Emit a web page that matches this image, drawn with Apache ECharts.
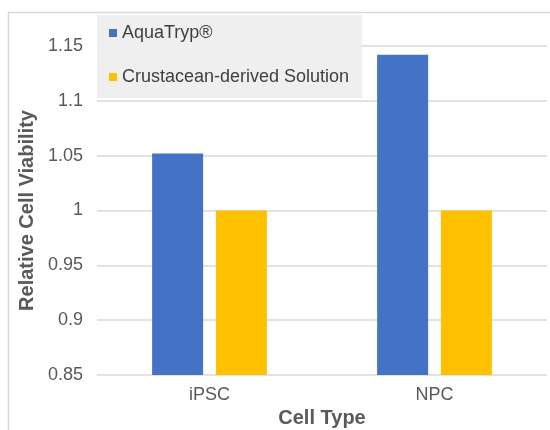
<!DOCTYPE html>
<html><head><meta charset="utf-8">
<script src="https://cdn.jsdelivr.net/npm/echarts@6/dist/echarts.min.js"></script>
<style>html,body{margin:0;padding:0;background:#fff}#c{width:550px;height:430px}</style>
</head><body><div id="c"></div>
<script>
const categories = ['iPSC', 'NPC'];
const seriesNames = ['AquaTryp®', 'Crustacean-derived Solution'];
const aquaTryp = [1.052, 1.142];
const crustacean = [1.0, 1.0];
const yTicks = [0.85, 0.9, 0.95, 1, 1.05, 1.1, 1.15];

const yMin = yTicks[0], yMax = yTicks[yTicks.length - 1];
const font = 'Liberation Sans, Arial, sans-serif';
const chart = echarts.init(document.getElementById('c'), null, {renderer: 'canvas'});
chart.setOption({
  animation: false,
  graphic: [{type: 'rect', shape: {x: 8.5, y: 12.5, width: 700, height: 600}, style: {fill: 'none', stroke: '#d9d9d9', lineWidth: 1.5}, z: -10}],
  grid: {left: 97, right: 3, top: 46, bottom: 55, containLabel: false, outerBoundsMode: 'none'},
  xAxis: {type: 'category', data: categories,
    axisLine: {show: false}, axisTick: {show: false},
    axisLabel: {color: '#595959', fontSize: 18, fontFamily: font, margin: 11},
    name: 'Cell Type', nameLocation: 'middle', nameGap: 33,
    nameTextStyle: {color: '#595959', fontSize: 20, fontWeight: 'bold', fontFamily: font}},
  yAxis: {type: 'value', min: yMin, max: yMax, interval: 0.05,
    axisLine: {show: false}, axisTick: {show: false},
    splitLine: {lineStyle: {color: '#d9d9d9', width: 1.5}},
    axisLabel: {color: '#595959', fontSize: 18, fontFamily: font, margin: 14,
      formatter: v => String(parseFloat(v.toFixed(2)))},
    name: 'Relative Cell Viability', nameLocation: 'middle', nameGap: 53,
    nameTextStyle: {color: '#595959', fontSize: 20, fontWeight: 'bold', fontFamily: font}},
  legend: {
    orient: 'vertical', left: 97, top: 15,
    backgroundColor: '#efefef', padding: [9, 13, 12, 12], itemGap: 26,
    itemWidth: 8, itemHeight: 8, icon: 'rect',
    textStyle: {color: '#404040', fontSize: 18, fontFamily: font},
    data: seriesNames
  },
  series: [
    {name: seriesNames[0], type: 'bar', data: aquaTryp,
     barWidth: 51, barGap: '25%', itemStyle: {color: '#4472C4'}},
    {name: seriesNames[1], type: 'bar', data: crustacean,
     barWidth: 51, barGap: '25%', itemStyle: {color: '#FFC000'}}
  ]
});
</script></body></html>
